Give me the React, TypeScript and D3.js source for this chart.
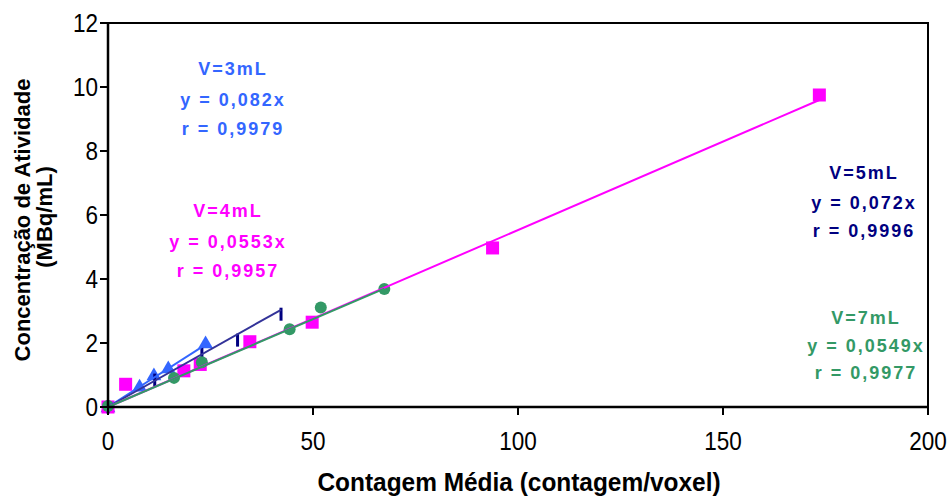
import React from "react";
import * as d3 from "d3";

const W = 949;
const H = 498;

// V=3mL (blue triangles)
const v3X = [0, 7.7, 11.2, 14.7, 23.8];
const v3Y = [0, 0.65, 1.0, 1.22, 2.0];
// V=4mL (magenta squares)
const v4X = [0, 4.3, 18.5, 22.5, 34.6, 49.8, 93.8, 173.5];
const v4Y = [0, 0.71, 1.13, 1.33, 2.04, 2.65, 4.97, 9.75];
// V=5mL (navy dashes)
const v5X = [0, 11.4, 22.9, 31.6, 42.2];
const v5Y = [0, 0.84, 1.65, 2.09, 2.9];
// V=7mL (green circles)
const v7X = [0, 16.1, 22.9, 44.3, 51.9, 67.4];
const v7Y = [0.03, 0.91, 1.4, 2.43, 3.11, 3.69];

const slopes = [0.082, 0.0553, 0.072, 0.0549];
const volumeLabels = ["V=3mL", "V=4mL", "V=5mL", "V=7mL"];
const eqLabels = ["y = 0,082x", "y = 0,0553x", "y = 0,072x", "y = 0,0549x"];
const rLabels = ["r = 0,9979", "r = 0,9957", "r = 0,9996", "r = 0,9977"];

const xTicks = [0, 50, 100, 150, 200];
const yTicks = [0, 2, 4, 6, 8, 10, 12];

const xTitle = "Contagem Média (contagem/voxel)";
const yTitle1 = "Concentração de Atividade";
const yTitle2 = "(MBq/mL)";

const FONT = "'Liberation Sans', Arial, Helvetica, sans-serif";

export default function App() {
  const x = d3.scaleLinear().domain([0, 200]).range([108, 928]);
  const y = d3.scaleLinear().domain([0, 12]).range([407, 23]);

  const series = [
    { xs: v3X, ys: v3Y, color: "#3366FF", line: "#3366FF", marker: "triangle" },
    { xs: v4X, ys: v4Y, color: "#FF00FF", line: "#FF00FF", marker: "square" },
    { xs: v5X, ys: v5Y, color: "#000080", line: "#333399", marker: "dash" },
    { xs: v7X, ys: v7Y, color: "#339966", line: "#339966", marker: "circle" },
  ];

  const annot = [
    { cx: 232, ys: [68, 99, 128] },
    { cx: 227, ys: [210, 241, 270] },
    { cx: 863, ys: [172, 202, 230] },
    { cx: 865, ys: [317, 345, 372] },
  ];

  const tri = d3.symbol().type(d3.symbolTriangle).size(95)();
  const lineGen = d3
    .line<number>()
    .x((d) => x(d[0]))
    .y((d) => y(d[1]));

  const renderMarker = (s: any, i: number) => {
    const px = x(s.xs[i]);
    const py = y(s.ys[i]);
    if (s.marker === "square")
      return <rect key={i} x={px - 6.5} y={py - 6.5} width={13} height={13} fill={s.color} />;
    if (s.marker === "circle") return <circle key={i} cx={px} cy={py} r={6} fill={s.color} />;
    if (s.marker === "triangle")
      return <path key={i} d={tri as string} transform={`translate(${px},${py + 1})`} fill={s.color} />;
    return <line key={i} x1={px} x2={px} y1={py - 6.5} y2={py + 6.5} stroke={s.color} strokeWidth={3} />;
  };

  const drawOrder = [0, 2, 1, 3];

  return (
    <svg
      width={W}
      height={H}
      style={{ position: "absolute", left: 0, top: 0, background: "#fff" }}
      fontFamily={FONT}
    >
      <rect width={W} height={H} fill="#fff" />
      {/* plot frame */}
      <rect x={108} y={23} width={820} height={384} fill="none" stroke="#000" strokeWidth={2} />

      {/* markers */}
      {series.map((s, si) => (
        <g key={"m" + si}>{s.xs.map((_, i) => renderMarker(s, i))}</g>
      ))}

      {/* trend lines */}
      {drawOrder.map((si) => {
        const s = series[si];
        const xmax = d3.max(s.xs) as number;
        const xmin = d3.min(s.xs) as number;
        const pts: any = [
          [xmin, slopes[si] * xmin],
          [xmax, slopes[si] * xmax],
        ];
        return (
          <path key={"l" + si} d={lineGen(pts) as string} stroke={s.line} strokeWidth={2} fill="none" />
        );
      })}

      {/* axes */}
      <line x1={108} x2={928} y1={407} y2={407} stroke="#000" strokeWidth={2.5} />
      <line x1={108} x2={108} y1={23} y2={407} stroke="#000" strokeWidth={2.5} />
      {yTicks.map((t) => (
        <g key={"yt" + t}>
          <line x1={100} x2={108} y1={y(t)} y2={y(t)} stroke="#000" strokeWidth={2} />
          <text
            transform={`translate(98,${y(t) + 8.5}) scale(0.9,1)`}
            textAnchor="end"
            fontSize={25}
            fill="#000"
          >
            {t}
          </text>
        </g>
      ))}
      {xTicks.map((t) => (
        <g key={"xt" + t}>
          <line x1={x(t)} x2={x(t)} y1={407} y2={415} stroke="#000" strokeWidth={2} />
          <text
            transform={`translate(${x(t)},450) scale(0.9,1)`}
            textAnchor="middle"
            fontSize={25}
            fill="#000"
          >
            {t}
          </text>
        </g>
      ))}

      {/* titles */}
      <text
        transform="translate(519,491) scale(0.94,1)"
        textAnchor="middle"
        fontSize={26}
        fontWeight="bold"
        fill="#000"
      >
        {xTitle}
      </text>
      <text
        transform="translate(30,220) rotate(-90)"
        textAnchor="middle"
        fontSize={22}
        fontWeight="bold"
        fill="#000"
      >
        {yTitle1}
      </text>
      <text
        transform="translate(52,217) rotate(-90)"
        textAnchor="middle"
        fontSize={22}
        fontWeight="bold"
        fill="#000"
      >
        {yTitle2}
      </text>

      {/* annotations */}
      {annot.map((a, i) => (
        <g key={"a" + i} fill={series[i].color} fontSize={18} fontWeight="bold" textAnchor="middle">
          <text x={a.cx + 1} y={a.ys[0] + 6.5} letterSpacing={2}>
            {volumeLabels[i]}
          </text>
          <text x={a.cx + 1} y={a.ys[1] + 6.5} letterSpacing={2}>
            {eqLabels[i]}
          </text>
          <text x={a.cx + 1} y={a.ys[2] + 6.5} letterSpacing={2}>
            {rLabels[i]}
          </text>
        </g>
      ))}
    </svg>
  );
}
